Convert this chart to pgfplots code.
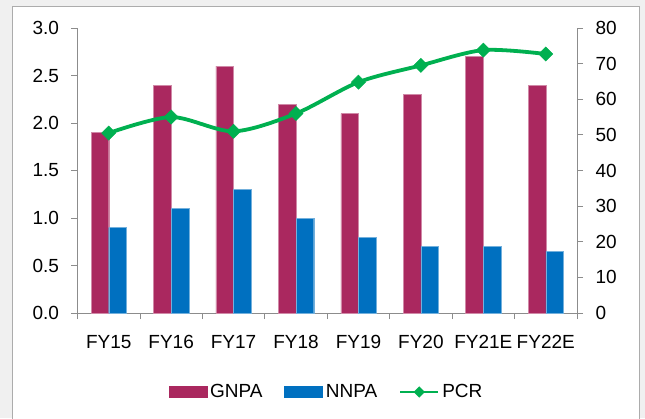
\documentclass[border=0pt]{standalone}
\usepackage{fontspec}
\setmainfont{Liberation Sans}
\usepackage{pgfplots}
\pgfplotsset{compat=1.18}

\definecolor{gnpa}{HTML}{AA285F}
\definecolor{nnpa}{HTML}{0070C0}
\definecolor{pcr}{HTML}{00B050}
\definecolor{axgray}{HTML}{8C8C8C}
\newcommand{\chartfont}{\fontsize{19}{22}\selectfont}

\pgfplotsset{
  base/.style={
    at={(77.5pt,105pt)}, anchor=south west, scale only axis,
    width=499.5pt, height=285pt,
    xmin=-0.5, xmax=7.5,
    tick align=outside, major tick length=6pt, minor tick length=6pt,
    axis line style={axgray, line width=0.8pt},
    every tick/.style={axgray, line width=0.8pt},
    tick label style={font=\chartfont, black},
    /pgf/number format/assume math mode=true,
  },
}

\begin{document}
\begin{tikzpicture}[x=1pt,y=1pt]
\useasboundingbox (0,0) rectangle (645,418);
\begin{scope}
  \clip (0,0) rectangle (645,418);
  \fill[gray!12] (0,0) rectangle (645,418);
  \filldraw[fill=white, draw=gray!65, line width=1pt] (12.5,411) rectangle (639,-5);
\end{scope}

% GNPA / NNPA bars, left axis
\begin{axis}[base,
  ymin=0, ymax=3,
  axis y line*=left, axis x line*=bottom,
  ytick={0,0.5,...,3},
  yticklabel style={xshift=-9pt, /pgf/number format/.cd, fixed, fixed zerofill, precision=1},
  xtick={0,...,7},
  xticklabels={FY15,FY16,FY17,FY18,FY19,FY20,FY21E,FY22E},
  xticklabel style={yshift=-13pt},
  major x tick style={draw=none},
  minor xtick={-0.5,0.5,...,7.5},
  ybar=0pt, bar width=17.7pt,
  legend style={at={(0.4985,-0.277)}, anchor=center, draw=none, fill=none,
    font=\chartfont, legend columns=3,
    /tikz/every odd column/.append style={column sep=1pt},
    /tikz/every even column/.append style={column sep=20pt}},
]
\addplot[fill=gnpa, draw=gnpa!55!white, line width=0.4pt,
  legend image code/.code={\fill[gnpa] (0pt,-5.5pt) rectangle (38pt,5.5pt);}]
  coordinates {(0,1.9) (1,2.4) (2,2.6) (3,2.2) (4,2.1) (5,2.3) (6,2.7) (7,2.4)};
\addlegendentry{GNPA}
\addplot[fill=nnpa, draw=nnpa!55!white, line width=0.4pt,
  legend image code/.code={\fill[nnpa] (0pt,-5.5pt) rectangle (38pt,5.5pt);}]
  coordinates {(0,0.9) (1,1.1) (2,1.3) (3,1.0) (4,0.8) (5,0.7) (6,0.7) (7,0.65)};
\addlegendentry{NNPA}
\addlegendimage{pcr, line width=2pt,
  legend image code/.code={
    \draw[pcr, line width=2pt] (0pt,0pt) -- (38pt,0pt);
    \fill[pcr] (19pt,0pt) node[rotate=45, fill=pcr, inner sep=0pt, minimum size=8pt] {};}}
\addlegendentry{PCR}
\end{axis}

% PCR line, right axis
\begin{axis}[base,
  ymin=0, ymax=80,
  axis y line*=right, axis x line=none,
  ytick={0,10,...,80},
  yticklabel style={xshift=9pt},
]
\addplot[pcr, line width=3.8pt, smooth, mark=square*, mark size=5pt,
  mark options={rotate=45, solid, line width=0.5pt}]
  coordinates {(0,50.5) (1,55) (2,51) (3,56) (4,64.8) (5,69.5) (6,73.8) (7,72.7)};
\end{axis}
\end{tikzpicture}
\end{document}
